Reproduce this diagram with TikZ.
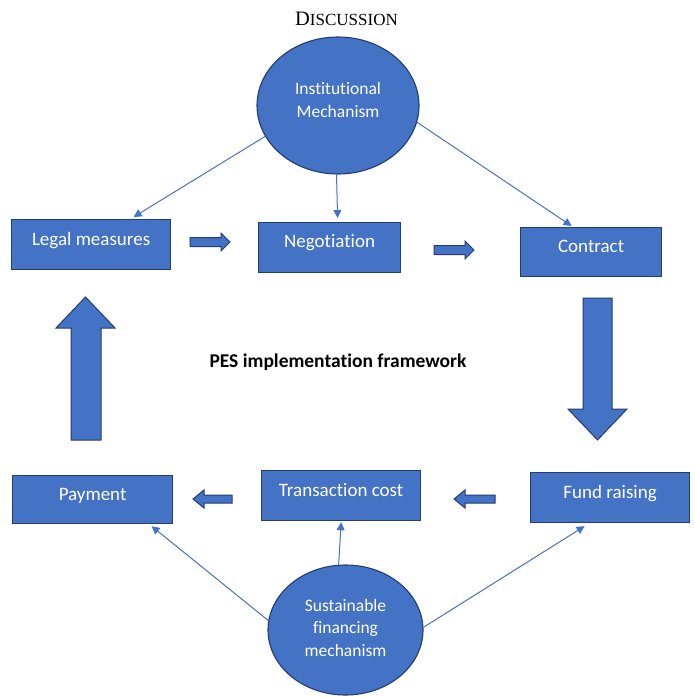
\documentclass[tikz,border=0pt]{standalone}
\usepackage{fontspec}
\setmainfont{Liberation Serif}
\newfontfamily\carl[Ligatures=NoCommon]{Carlito}
\newcommand\tiX{t\kern0pt i}
\newcommand\fiX{f\kern0pt i}
\usetikzlibrary{arrows.meta,shapes.geometric}
\definecolor{blueA}{HTML}{4472C4}
\definecolor{navyA}{HTML}{223E6E}
\tikzset{
  boxnode/.style={draw=navyA, fill=blueA, line width=1.2pt, inner sep=0pt, text=white,
    font=\carl\fontsize{19}{22}\selectfont, anchor=north west},
  ellnode/.style={ellipse, draw=navyA, fill=blueA, line width=1.1pt, inner sep=0pt},
  elltext/.style={text=white, align=center, inner sep=0pt},
  conn/.style={draw=blueA, line width=1pt, -{Triangle[length=8pt,width=8pt]}},
  blockarrow/.style={fill=blueA, draw=navyA, line width=1pt, line join=miter},
}
\begin{document}
\begin{tikzpicture}[x=1pt,y=-1pt]
\useasboundingbox (0,0) rectangle (694,698);

% title
\node[anchor=base, inner sep=0pt] (title) at (346.5,26) {{\fontsize{20.5}{20}\selectfont D}{\fontsize{17}{17}\selectfont ISCUSSION}};

% ellipses
\node[ellnode, minimum width=162pt, minimum height=137pt] (inst) at (338,105.5) {};
\node[elltext, font=\carl\fontsize{17.5}{23}\selectfont] (insttext) at (338,99.5) {Ins\tiX tu\tiX onal\\Mechanism};
\node[ellnode, minimum width=155pt, minimum height=130pt] (sfm) at (345.5,630) {};
\node[elltext, font=\carl\fontsize{17.5}{22.5}\selectfont] (sfmtext) at (345.5,627.5) {Sustainable\\\fiX nancing\\mechanism};

% boxes
\node[boxnode, minimum width=159pt, text height=26pt, text depth=24pt] (legal) at (11,219) {Legal measures};
\node[boxnode, minimum width=142pt, text height=25pt, text depth=25pt] (negot) at (258,222) {Nego\tiX a\tiX on};
\node[boxnode, minimum width=141pt, text height=25pt, text depth=24pt] (contract) at (520,227) {Contract};
\node[boxnode, minimum width=160pt, text height=25pt, text depth=23pt] (pay) at (12,475) {Payment};
\node[boxnode, minimum width=159pt, text height=26pt, text depth=24pt] (trans) at (261,470) {Transac\tiX on cost};
\node[boxnode, minimum width=159pt, text height=26pt, text depth=24pt] (fund) at (530,472) {Fund raising};

% centre label
\node[font=\carl\bfseries\fontsize{19.5}{22}\selectfont, inner sep=0pt] (pes) at (338,362) {PES implementa\tiX on framework};

% thin connectors
\draw[conn] (inst.203) -- ([xshift=42.5pt,yshift=2pt]legal.north);
\draw[conn] ([xshift=-1.5pt]inst.south) -- ([xshift=8pt,yshift=4pt]negot.north);
\draw[conn] (inst.-12) -- ([xshift=-19.5pt,yshift=1pt]contract.north);
\draw[conn] (sfm.173) -- ([xshift=59pt,yshift=-2pt]pay.south);
\draw[conn] (sfm.96) -- ([yshift=-1pt]trans.south);
\draw[conn] (sfm.2) -- ([xshift=-25.5pt,yshift=-3pt]fund.south);

% small block arrows
\draw[blockarrow] (190,237.5) -- (221,237.5) -- (221,233) -- (230,242) -- (221,251) -- (221,246.5) -- (190,246.5) -- cycle;
\draw[blockarrow] (434,245.5) -- (465,245.5) -- (465,241) -- (474,250) -- (465,259) -- (465,254.5) -- (434,254.5) -- cycle;
\draw[blockarrow] (232,495) -- (204,495) -- (204,490) -- (193,499) -- (204,508) -- (204,503) -- (232,503) -- cycle;
\draw[blockarrow] (495,495) -- (465,495) -- (465,490) -- (454,499) -- (465,508) -- (465,503) -- (495,503) -- cycle;

% big block arrows
\draw[blockarrow] (583,298) -- (612,298) -- (612,409) -- (627,409) -- (597.5,440) -- (568,409) -- (583,409) -- cycle;
\draw[blockarrow] (71,440) -- (101,440) -- (101,328) -- (115,328) -- (85.5,297) -- (56,328) -- (71,328) -- cycle;
\end{tikzpicture}
\end{document}
